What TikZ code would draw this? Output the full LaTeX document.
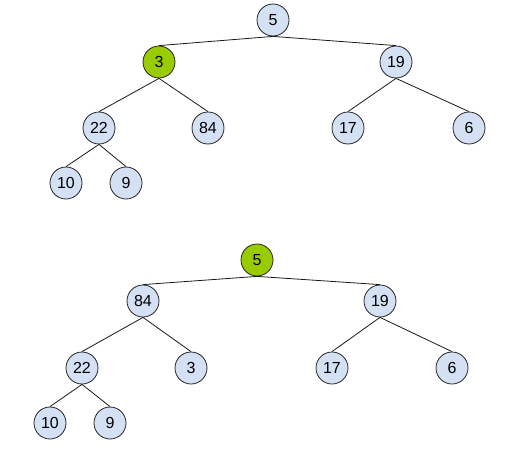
\documentclass[tikz,border=0pt]{standalone}
\usepackage{fontspec}
\setmainfont{Liberation Sans}
\definecolor{nodeblue}{HTML}{D4E1F5}
\definecolor{nodegreen}{HTML}{99CC00}
\begin{document}
\begin{tikzpicture}[x=1pt,y=-1pt,
  hnode/.style={circle,draw=black!85,line width=0.8pt,fill=nodeblue,minimum size=32pt,inner sep=0pt,font=\fontsize{16}{19}\selectfont},
  gnode/.style={hnode,fill=nodegreen},
  edge/.style={draw=black!90,line width=0.8pt}]
\useasboundingbox (0,0) rectangle (531,450);
% top tree
\node[hnode] (a5) at (273,20) {5};
\node[gnode] (a3) at (159,62) {3};
\node[hnode] (a19) at (396,62) {19};
\node[hnode] (a22) at (99,128) {22};
\node[hnode] (a84) at (208,128) {84};
\node[hnode] (a17) at (348,128) {17};
\node[hnode] (a6) at (469,128) {6};
\node[hnode] (a10) at (66,183) {10};
\node[hnode] (a9) at (126,183) {9};
\draw[edge] (a5.south) -- (a3.north);
\draw[edge] (a5.south) -- (a19.north);
\draw[edge] (a3.south) -- (a22.north);
\draw[edge] (a3.south) -- (a84.north);
\draw[edge] (a19.south) -- (a17.north);
\draw[edge] (a19.south) -- (a6.north);
\draw[edge] (a22.south) -- (a10.north);
\draw[edge] (a22.south) -- (a9.north);
% bottom tree
\node[gnode] (b5) at (257,260) {5};
\node[hnode] (b84) at (143,301) {84};
\node[hnode] (b19) at (380,301) {19};
\node[hnode] (b22) at (82,368) {22};
\node[hnode] (b3) at (191,368) {3};
\node[hnode] (b17) at (332,368) {17};
\node[hnode] (b6) at (452,368) {6};
\node[hnode] (b10) at (50,423) {10};
\node[hnode] (b9) at (110,423) {9};
\draw[edge] (b5.south) -- (b84.north);
\draw[edge] (b5.south) -- (b19.north);
\draw[edge] (b84.south) -- (b22.north);
\draw[edge] (b84.south) -- (b3.north);
\draw[edge] (b19.south) -- (b17.north);
\draw[edge] (b19.south) -- (b6.north);
\draw[edge] (b22.south) -- (b10.north);
\draw[edge] (b22.south) -- (b9.north);
\end{tikzpicture}
\end{document}
